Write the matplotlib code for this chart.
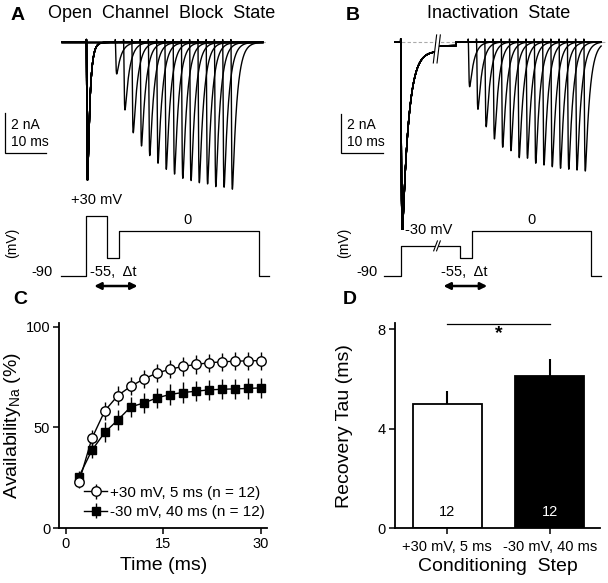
import numpy as np
import matplotlib
matplotlib.use("Agg")
import matplotlib.pyplot as plt

plt.rcParams['font.family'] = ['Liberation Sans', 'DejaVu Sans']

# ---------------- data ----------------
recovery_ms = [2, 4, 6, 8, 10, 12, 14, 16, 18, 20, 22, 24, 26, 28, 30]
avail_open = [22.8, 44.6, 58.3, 65.8, 70.4, 74.0, 76.9, 78.8, 80.2, 81.2, 82.0, 82.5, 82.8, 83.0, 83.1]
avail_open_se = [3.0, 4.0, 4.5, 4.5, 4.5, 4.5, 4.5, 4.5, 4.5, 4.5, 4.5, 4.5, 4.5, 4.5, 4.5]
avail_inact = [25.6, 38.7, 47.6, 53.7, 60.2, 62.1, 64.6, 66.3, 67.3, 67.9, 68.6, 68.9, 69.1, 69.3, 69.6]
avail_inact_se = [3.0, 4.0, 5.0, 5.0, 5.0, 5.0, 5.0, 5.0, 5.0, 5.0, 5.0, 5.0, 5.0, 5.0, 5.0]
legend_labels = ['+30 mV, 5 ms (n = 12)', '-30 mV, 40 ms (n = 12)']

cond_labels = ['+30 mV, 5 ms', '-30 mV, 40 ms']
tau_ms = [5.0, 6.1]
tau_se = [0.5, 0.7]
tau_n = [12, 12]

# example current traces (peak amplitudes, nA)
cond_peak_A = 7.0
test_peaks_A = [1.61, 3.44, 4.60, 5.27, 5.76, 6.15, 6.46, 6.70, 6.92, 7.03, 7.14, 7.20, 7.34, 7.37, 7.47]
cond_peak_B = 9.48
plateau_B = [-0.48, -0.20]   # steady current during -30 mV step (before / after break), nA
test_peaks_B = [2.33, 3.50, 4.40, 5.03, 5.46, 5.64, 6.00, 6.03, 6.29, 6.38, 6.47, 6.55, 6.60, 6.64, 6.69]

# voltage protocols (mV)
prot_A_levels = [-90, 30, -55, 0, -90]
prot_B_levels = [-90, -30, -55, 0, -90]

# ---------------- layout helpers ----------------
W, H = 608, 583
fig = plt.figure(figsize=(W / 100, H / 100), dpi=100)


def rect(l, t, r, b):
    return [l / W, 1 - b / H, (r - l) / W, (b - t) / H]


def ftext(x, y, s, **kw):
    kw.setdefault('ha', 'center')
    kw.setdefault('va', 'center')
    fig.text(x / W, 1 - y / H, s, **kw)


PX_PER_MS = 4.13


def na_current(t, onset, peak, tau_m, tau_h):
    s = np.clip(t - onset, 0, None)
    g = (1 - np.exp(-s / tau_m)) ** 3 * np.exp(-s / tau_h)
    ss = np.linspace(0, 10 * tau_h, 4000)
    gm = ((1 - np.exp(-ss / tau_m)) ** 3 * np.exp(-ss / tau_h)).max()
    return -peak * g / gm


def cap_tick(t, onset, amp=0.14):
    s = t - onset
    out = np.zeros_like(t)
    m = s >= 0
    out[m] = amp * np.exp(-s[m] / 0.06)
    return out


lw_tr = 1.0

# ================= Panel A traces =================
t0A_px = 62.0
axA = fig.add_axes(rect(0, 30, 300, 195))
axA.set_xlim((0 - t0A_px) / PX_PER_MS, (300 - t0A_px) / PX_PER_MS)
axA.set_ylim(-(195 - 42.3) / 19.67, (42.3 - 30) / 19.67)
axA.axis('off')
axA.patch.set_alpha(0)

condA_on, condA_dur = 5.9, 5.0
condA_end = condA_on + condA_dur
tA = np.arange(0.0, 48.6, 0.01)
axA.plot([tA[0], 49.5], [0, 0], color='#aaaaaa', lw=0.8, ls=(0, (3, 2)), zorder=1)
base_A = na_current(tA, condA_on, cond_peak_A, 0.09, 0.6) + cap_tick(tA, condA_on)
for dt, pk in zip(recovery_ms, test_peaks_A):
    on = condA_end + dt
    y = base_A + na_current(tA, on, pk, 0.1, 1.1) + cap_tick(tA, on)
    axA.plot(tA, y, color='black', lw=lw_tr, zorder=3)
axA.plot([tA[0], 48.5], [0, 0], color='black', lw=1.8, zorder=2)

# scale bar A
sbx = (5 - t0A_px) / PX_PER_MS
sby_top = -(113.3 - 42.3) / 19.67
axA.plot([sbx, sbx, sbx + 10], [sby_top, sby_top - 2, sby_top - 2], color='black', lw=0.9,
         clip_on=False, solid_joinstyle='miter')
ftext(11, 125, '2 nA', ha='left', fontsize=10)
ftext(11, 142, '10 ms', ha='left', fontsize=10)

# protocol A
prA = fig.add_axes(rect(0, 195, 300, 300))
prA.set_xlim(axA.get_xlim())
prA.set_ylim(-(300 - 231) / 0.496, (231 - 195) / 0.496)
prA.axis('off')
prA.patch.set_alpha(0)
edgesA = [-0.25, condA_on, condA_end, condA_end + 3.0, 47.8, 50.2]
xs, ys = [], []
for i, lev in enumerate(prot_A_levels):
    xs += [edgesA[i], edgesA[i + 1]]
    ys += [lev, lev]
prA.plot(xs, ys, color='black', lw=0.9)
prA.annotate('', xy=(7.8, -110.9), xytext=(18.3, -110.9),
             arrowprops=dict(arrowstyle='<|-|>', color='black', lw=1.8,
                             mutation_scale=10, shrinkA=0, shrinkB=0))
ftext(97, 200, '+30 mV', fontsize=10.5)
ftext(188, 220, '0', fontsize=10.5)
ftext(12, 243, '(mV)', fontsize=10, rotation=90)
ftext(42, 272, '-90', fontsize=10.5)
ftext(113, 272, '-55,  \u0394t', fontsize=10.5)

ftext(18, 15, 'A', fontsize=14, fontweight='bold')
ftext(162, 13.5, 'Open  Channel  Block  State', fontsize=13)

# ================= Panel B traces =================
t0B_px = 394.7
axB = fig.add_axes(rect(330, 30, 608, 230))
axB.set_xlim((330 - t0B_px) / PX_PER_MS, (608 - t0B_px) / PX_PER_MS)
axB.set_ylim(-(230 - 41.7) / 19.33, (41.7 - 30) / 19.33)
axB.axis('off')
axB.patch.set_alpha(0)

condB_on, condB_end, brk = 1.45, 15.8, 10.2
tB = np.arange(0.0, 50.0, 0.01)
axB.plot([0.2, 50.8], [0, 0], color='#aaaaaa', lw=0.8, ls=(0, (3, 2)), zorder=1)
plate = np.where(tB < brk, plateau_B[0], plateau_B[1])
plate = np.where((tB >= condB_on) & (tB < condB_end - 0.9), plate, 0.0)
plate_onset = 1 - np.exp(-np.clip(tB - condB_on, 0, None) / 0.3)
base_B = na_current(tB, condB_on, cond_peak_B, 0.1, 1.5) + plate * plate_onset
base_B = base_B + cap_tick(tB, condB_on)
for dt, pk in zip(recovery_ms, test_peaks_B):
    on = condB_end + dt
    y = base_B + na_current(tB, on, pk, 0.1, 1.1) + cap_tick(tB, on)
    axB.plot(tB, y, color='black', lw=lw_tr, zorder=3)
# break marks in trace
axB.fill([brk - 0.75, brk + 0.05, brk + 0.85, brk + 0.05], [-1.1, 0.35, 0.35, -1.1],
         color='white', zorder=4, lw=0)
for dx in (-0.45, 0.45):
    axB.plot([brk + dx - 0.4, brk + dx + 0.4], [-1.1, 0.35], color='black', lw=0.8, zorder=5)

# scale bar B
sbx = (341.3 - t0B_px) / PX_PER_MS
sby_top = -(114 - 41.7) / 19.33
axB.plot([sbx, sbx, sbx + 10], [sby_top, sby_top - 2, sby_top - 2], color='black', lw=0.9,
         clip_on=False, solid_joinstyle='miter')
ftext(347, 125, '2 nA', ha='left', fontsize=10)
ftext(347, 142, '10 ms', ha='left', fontsize=10)

# protocol B
prB = fig.add_axes(rect(330, 195, 608, 300))
prB.set_xlim(axB.get_xlim())
prB.set_ylim(-(300 - 231) / 0.496, (231 - 195) / 0.496)
prB.axis('off')
prB.patch.set_alpha(0)
edgesB = [-2.6, condB_on, condB_end, condB_end + 2.8, 47.5, 49.9]
xs, ys = [], []
for i, lev in enumerate(prot_B_levels):
    xs += [edgesB[i], edgesB[i + 1]]
    ys += [lev, lev]
prB.plot(xs, ys, color='black', lw=0.9)
pb = (437 - t0B_px) / PX_PER_MS
prB.fill([pb - 0.9, pb + 0.2, pb + 0.9, pb - 0.2], [-40, -20, -20, -40], color='white', lw=0, zorder=4)
for dx in (-0.35, 0.35):
    prB.plot([pb + dx - 0.45, pb + dx + 0.45], [-40, -20], color='black', lw=0.8, zorder=5)
prB.annotate('', xy=(11.8, -110.9), xytext=(22.4, -110.9),
             arrowprops=dict(arrowstyle='<|-|>', color='black', lw=1.8,
                             mutation_scale=10, shrinkA=0, shrinkB=0))
ftext(429, 230, '-30 mV', fontsize=10.5)
ftext(531, 220, '0', fontsize=10.5)
ftext(344, 243, '(mV)', fontsize=10, rotation=90)
ftext(367, 272, '-90', fontsize=10.5)
ftext(464, 272, '-55,  \u0394t', fontsize=10.5)

ftext(353, 15, 'B', fontsize=14, fontweight='bold')
ftext(499, 13.5, 'Inactivation  State', fontsize=13)

# ================= Panel C =================
axC = fig.add_axes(rect(59.3, 322.7, 267, 528.3))
axC.set_xlim(-1.03, 31.0)
axC.set_ylim(0, 101.9)
axC.errorbar(recovery_ms, avail_inact, yerr=avail_inact_se, fmt='-s', color='black',
             mfc='black', mec='black', ms=6.3, lw=1.0, elinewidth=1.0, capsize=0,
             label=legend_labels[1], zorder=3, clip_on=False)
axC.errorbar(recovery_ms, avail_open, yerr=avail_open_se, fmt='-o', color='black',
             mfc='white', mec='black', ms=6.8, mew=1.0, lw=1.0, elinewidth=1.0, capsize=0,
             label=legend_labels[0], zorder=4, clip_on=False)
h, l = axC.get_legend_handles_labels()
axC.legend(h[::-1], l[::-1], loc='lower left', bbox_to_anchor=(0.12, 0.045), frameon=False,
           fontsize=11, handlelength=1.5, handletextpad=0.2, labelspacing=0.35,
           borderaxespad=0, borderpad=0)
axC.set_xticks([0, 15, 30])
axC.set_yticks([0, 50, 100])
for s in ('top', 'right'):
    axC.spines[s].set_visible(False)
for s in ('left', 'bottom'):
    axC.spines[s].set_linewidth(1.3)
axC.tick_params(direction='out', length=4.5, width=1.1, labelsize=10.5, pad=2)
axC.set_xlabel('Time (ms)', fontsize=14, labelpad=4)
axC.set_ylabel('Availability$_{\\mathregular{Na}}$ (%)', fontsize=14, labelpad=2)
ftext(20, 300, 'C', fontsize=14, fontweight='bold')

# ================= Panel D =================
axD = fig.add_axes(rect(395, 323.3, 600, 528.3))
xpos = np.arange(len(tau_ms))
axD.set_xlim(-0.51, 1.49)
axD.set_ylim(0, 8.23)
axD.bar(xpos, tau_ms, width=0.67, color=['white', 'black'], edgecolor='black', linewidth=1.3,
        zorder=2)
axD.errorbar(xpos, tau_ms, yerr=[[0, 0], tau_se], fmt='none', ecolor='black', elinewidth=1.5,
             capsize=0, zorder=3)
for x, n, c in zip(xpos, tau_n, ['black', 'white']):
    axD.text(x, 0.65, str(n), ha='center', va='center', fontsize=10.5, color=c, zorder=4)
axD.plot([0, 1], [8.2, 8.2], color='black', lw=0.9, clip_on=False)
axD.text(0.5, 7.83, '*', ha='center', va='center', fontsize=14, fontweight='bold')
axD.set_xticks(xpos)
axD.set_xticklabels(cond_labels)
axD.set_yticks([0, 4, 8])
for s in ('top', 'right'):
    axD.spines[s].set_visible(False)
for s in ('left', 'bottom'):
    axD.spines[s].set_linewidth(1.3)
axD.tick_params(direction='out', length=4.5, width=1.1, labelsize=10.5, pad=2)
axD.tick_params(axis='x', labelsize=10.5, pad=4)
axD.set_xlabel('Conditioning  Step', fontsize=14, labelpad=3)
axD.set_ylabel('Recovery Tau (ms)', fontsize=14, labelpad=18)
ftext(350, 300, 'D', fontsize=14, fontweight='bold')

fig.savefig('out.png', dpi=100)
